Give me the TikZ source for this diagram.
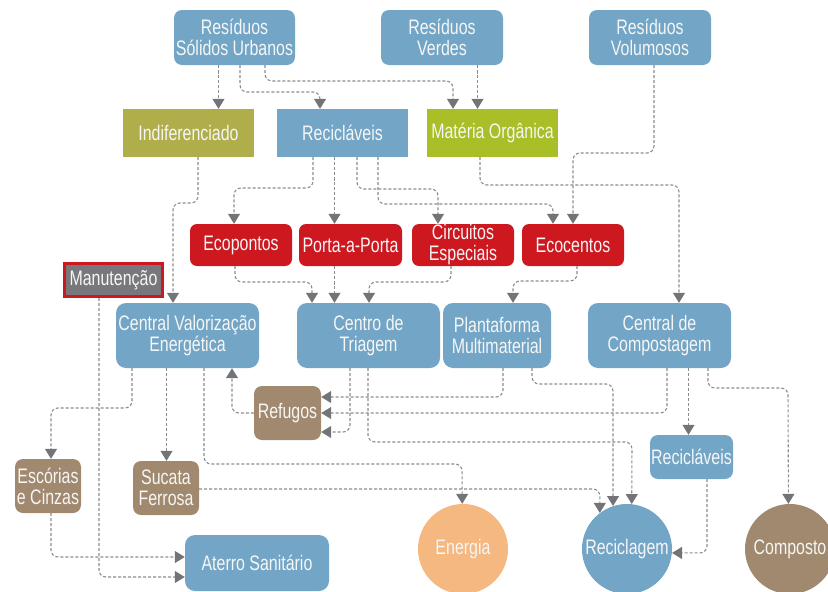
\documentclass[tikz,border=0pt]{standalone}
\usepackage{fontspec}
\setmainfont[FakeStretch=0.76]{Liberation Sans}
\usetikzlibrary{arrows.meta}
\definecolor{cblue}{HTML}{72A5C6}
\definecolor{colive}{HTML}{B0AE4B}
\definecolor{cgreen}{HTML}{A9BE27}
\definecolor{cred}{HTML}{CD1820}
\definecolor{cbrown}{HTML}{A0896E}
\definecolor{corange}{HTML}{F4B880}
\definecolor{cmgray}{HTML}{78787C}
\definecolor{lgray}{HTML}{8C8C8E}
\definecolor{agray}{HTML}{737477}
\definecolor{ctext}{HTML}{F6F6F6}
\begin{document}
\begin{tikzpicture}[x=1pt,y=-1pt,
  box/.style={rectangle, inner sep=0pt, text=ctext, align=center, font=\fontsize{21}{21}\selectfont},
  rbox/.style={box, rounded corners=8pt},
  disc/.style={circle, inner sep=0pt, minimum size=90pt, text=ctext, font=\fontsize{21}{21}\selectfont},
  conn/.style={draw=lgray, line width=1.1pt, dash pattern=on 3pt off 2pt, rounded corners=7pt,
    -{Triangle[width=12pt,length=10pt,color=agray]}},
]
\useasboundingbox (0,0) rectangle (828,592);
% top sources
\node[rbox, fill=cblue, minimum width=121pt, minimum height=55pt] (rsu) at (234.5,37.5) {Resíduos\\Sólidos Urbanos};
\node[rbox, fill=cblue, minimum width=122pt, minimum height=55pt] (rv) at (442,37.5) {Resíduos\\Verdes};
\node[rbox, fill=cblue, minimum width=122pt, minimum height=55pt] (rvol) at (650,37.5) {Resíduos\\Volumosos};
% second row
\node[box, fill=colive, minimum width=131pt, minimum height=48pt] (ind) at (188.5,133) {Indiferenciado};
\node[box, fill=cblue, minimum width=131pt, minimum height=48pt] (rec) at (342.5,133) {Recicláveis};
\node[box, fill=cgreen, minimum width=131pt, minimum height=48pt] (mo) at (492.5,133) {Matéria Orgânica};
% red row
\node[rbox, fill=cred, minimum width=102pt, minimum height=42pt, rounded corners=7pt] (eco) at (241,245) {Ecopontos};
\node[rbox, fill=cred, minimum width=103pt, minimum height=42pt, rounded corners=7pt] (pap) at (350.5,245) {Porta-a-Porta};
\node[rbox, fill=cred, minimum width=102pt, minimum height=42pt, rounded corners=7pt] (ce) at (463,245) {Circuitos\\Especiais};
\node[rbox, fill=cred, minimum width=102pt, minimum height=42pt, rounded corners=7pt] (ecc) at (573,245) {Ecocentos};
% manutencao
\node[box, fill=cmgray, draw=cred, line width=3pt, minimum width=98pt, minimum height=33pt] (man) at (113.5,280) {Manutenção};
% centrals
\node[rbox, fill=cblue, minimum width=143pt, minimum height=65pt, rounded corners=10pt] (cve) at (187.5,335.5) {Central Valorização\\Energética};
\node[rbox, fill=cblue, minimum width=143pt, minimum height=65pt, rounded corners=10pt] (ct) at (368.5,335.5) {Centro de\\Triagem};
\node[rbox, fill=cblue, minimum width=108pt, minimum height=65pt, rounded corners=10pt] (pm) at (497,335.5) {Plantaforma\\Multimaterial};
\node[rbox, fill=cblue, minimum width=143pt, minimum height=65pt, rounded corners=10pt] (cc) at (659.5,335.5) {Central de\\Compostagem};
% brown boxes
\node[rbox, fill=cbrown, minimum width=67pt, minimum height=54pt] (ref) at (287.5,413) {Refugos};
\node[rbox, fill=cbrown, minimum width=66pt, minimum height=54pt] (esc) at (48,486) {Escórias\\e Cinzas};
\node[rbox, fill=cbrown, minimum width=66pt, minimum height=54pt] (suc) at (166,488) {Sucata\\Ferrosa};
\node[rbox, fill=cblue, minimum width=83pt, minimum height=44pt] (rec2) at (691.5,457) {Recicláveis};
\node[rbox, fill=cblue, minimum width=144pt, minimum height=56pt, rounded corners=10pt] (at) at (257,563) {Aterro Sanitário};
% circles
\node[disc, fill=corange] (en) at (463,549) {Energia};
\node[disc, fill=cblue] (rcg) at (627,549) {Reciclagem};
\node[disc, fill=cbrown] (cmp) at (790,549) {Composto};
% connectors
\draw[conn] (rsu.south -| 218.5,0) -- (218.5,80) -- (ind.north -| 218.5,0);
\draw[conn] (rsu.south -| 240,0) |- (320,92) -- (rec.north -| 320,0);
\draw[conn] (rsu.south -| 265,0) |- (453,81) -- (mo.north -| 453,0);
\draw[conn] (rv.south -| 477.5,0) -- (477.5,80) -- (mo.north -| 477.5,0);
\draw[conn] (rvol.south -| 654,0) |- (573,153) -- (ecc.north -| 573,0);
\draw[conn] (mo.south -| 480,0) |- (679,185) -- (cc.north -| 679,0);
\draw[conn] (rec.south -| 313,0) |- (234,188) -- (eco.north -| 234,0);
\draw[conn] (rec.south -| 334.5,0) -- (334.5,180) -- (pap.north -| 334.5,0);
\draw[conn] (rec.south -| 357,0) |- (438,189) -- (ce.north -| 438,0);
\draw[conn] (rec.south -| 378,0) |- (553,204) -- (ecc.north -| 553,0);
\draw[conn] (ind.south -| 198,0) |- (173,203) -- (cve.north -| 173,0);
\draw[conn] (eco.south -| 235,0) |- (312,282) -- (ct.north -| 312,0);
\draw[conn] (pap.south -| 334.5,0) -- (334.5,280) -- (ct.north -| 334.5,0);
\draw[conn] (ce.south -| 451,0) |- (369,282) -- (ct.north -| 369,0);
\draw[conn] (ecc.south -| 577,0) |- (513,281) -- (pm.north -| 513,0);
\draw[conn] (man.south -| 99,0) |- (at.west |- 0,577);
\draw[conn] (esc.south -| 51,0) |- (at.west |- 0,557);
\draw[conn] (cve.south -| 132,0) |- (51,408) -- (esc.north -| 51,0);
\draw[conn] (cve.south -| 166.5,0) -- (166.5,400) -- (suc.north -| 166.5,0);
\draw[conn] (cve.south -| 204,0) |- (462,464) -- (en.91);
\draw[conn] (ref.west) -| (cve.south -| 232,0);
\draw[conn] (ct.south -| 350,0) |- (ref.east |- 0,432);
\draw[conn] (ct.south -| 368,0) |- (632,442) -- (rcg.84);
\draw[conn] (pm.south -| 503,0) |- (ref.east |- 0,397);
\draw[conn] (pm.south -| 532,0) |- (613,384) -- (rcg.108);
\draw[conn] (cc.south -| 667,0) |- (ref.east);
\draw[conn] (cc.south -| 688.5,0) -- (688.5,400) -- (rec2.north -| 688.5,0);
\draw[conn] (cc.south -| 708,0) |- (788,388) -- (cmp.92);
\draw[conn] (suc.east |- 0,489) -| (rcg.127);
\draw[conn] (rec2.south -| 707,0) |- (rcg.-5);
\end{tikzpicture}
\end{document}
